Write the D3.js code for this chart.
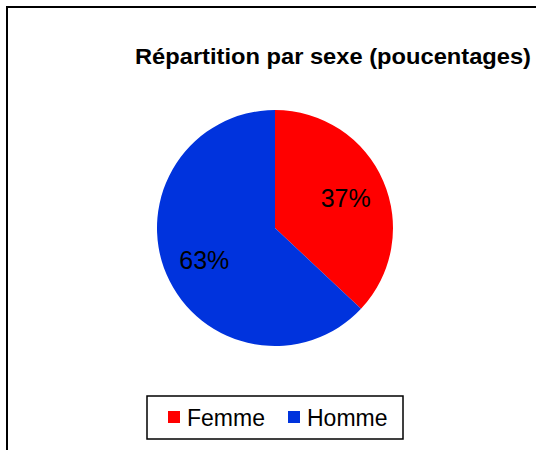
<!DOCTYPE html>
<html>
<head>
<meta charset="utf-8"/>
<script src="https://cdn.jsdelivr.net/npm/d3@7"></script>
<title>Répartition par sexe</title>
<style>
body { margin: 0; background: #fff; }
svg { display: block; font-family: Arial, "Liberation Sans", sans-serif; }
</style>
</head>
<body>
<script>
// data
var categories = ["Femme", "Homme"];
var values = [37, 63];
var colors = ["#FF0000", "#0033DD"];

var width = 536, height = 450;
var svg = d3.select("body").append("svg")
	.attr("width", width)
	.attr("height", height);

// chart frame (runs off the right and bottom edge)
svg.append("rect")
	.attr("x", 7).attr("y", 7)
	.attr("width", 560).attr("height", 480)
	.attr("fill", "#fff")
	.attr("stroke", "#000")
	.attr("stroke-width", 2);

// title
svg.append("text")
	.attr("x", 333).attr("y", 64)
	.attr("text-anchor", "middle")
	.attr("font-weight", "bold")
	.attr("font-size", 22)
	.attr("textLength", 396)
	.attr("lengthAdjust", "spacingAndGlyphs")
	.text("Répartition par sexe (poucentages)");

// pie
var cx = 275, cy = 228, r = 118;
var pie = d3.pie().sort(null).value(function(d){ return d; });
var arcs = pie(values);
var arc = d3.arc().innerRadius(0).outerRadius(r);
var labelArc = d3.arc().innerRadius(77).outerRadius(77);

var g = svg.append("g").attr("transform", "translate(" + cx + "," + cy + ")");
g.selectAll("path")
	.data(arcs)
	.enter().append("path")
	.attr("d", arc)
	.attr("fill", function(d, i){ return colors[i]; });

var total = d3.sum(values);
g.selectAll("text.lbl")
	.data(arcs)
	.enter().append("text")
	.attr("class", "lbl")
	.attr("transform", function(d){ return "translate(" + labelArc.centroid(d) + ")"; })
	.attr("text-anchor", "middle")
	.attr("dy", "0.4em")
	.attr("font-size", 25)
	.text(function(d){ return Math.round(d.data / total * 100) + "%"; });

// legend
var legend = svg.append("g");
legend.append("rect")
	.attr("x", 147).attr("y", 396)
	.attr("width", 256).attr("height", 43)
	.attr("fill", "#fff")
	.attr("stroke", "#000")
	.attr("stroke-width", 1.5);

var legX = [168, 288];
var items = legend.selectAll("g.item")
	.data(categories)
	.enter().append("g")
	.attr("class", "item")
	.attr("transform", function(d, i){ return "translate(" + legX[i] + ",411)"; });
items.append("rect")
	.attr("width", 12).attr("height", 12)
	.attr("fill", function(d, i){ return colors[i]; });
items.append("text")
	.attr("x", 19).attr("y", 15)
	.attr("font-size", 23)
	.text(function(d){ return d; });
</script>
</body>
</html>
